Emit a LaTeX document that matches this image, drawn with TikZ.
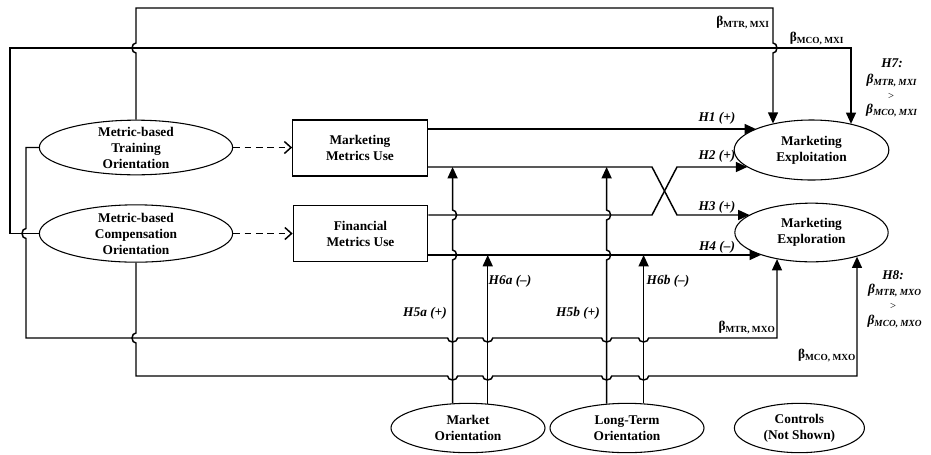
\documentclass[tikz,border=0pt]{standalone}
\usepackage{fontspec}
\setmainfont{Liberation Serif}
\usetikzlibrary{arrows.meta,positioning,calc,shapes.geometric}
\newcommand{\bcoef}[2]{β\textsubscript{#1, #2}}

\begin{document}
\begin{tikzpicture}[x=0.75pt, y=-0.75pt, >={Triangle[length=8.5pt,width=7.5pt]}, font=\bfseries,
  construct/.style={ellipse, draw, line width=0.8pt, align=center, inner sep=-4pt},
  metric/.style={rectangle, draw, line width=0.8pt, align=center, minimum width=101pt, minimum height=42pt},
  link/.style={line width=1.1pt},
  hyp/.style={font=\bfseries\itshape},
  cmp/.style={font=\bfseries\itshape, inner sep=0pt},
  hopur/.style={start angle=-90, end angle=90, x radius=3pt, y radius=3.75pt},
  hopul/.style={start angle=-90, end angle=-270, x radius=3pt, y radius=3.75pt},
  hopdl/.style={start angle=90, end angle=270, x radius=3pt, y radius=3.75pt},
  hopdr/.style={start angle=90, end angle=-90, x radius=3pt, y radius=3.75pt},
  hoprd/.style={start angle=180, end angle=360, x radius=3.75pt, y radius=3pt}]
  \useasboundingbox (0,0) rectangle (931,454);

  \node[construct, minimum width=145pt, minimum height=41pt] (mtr) at (136,147.5) {Metric-based\\Training\\Orientation};
  \node[construct, minimum width=145pt, minimum height=43pt] (mco) at (136,233.5) {Metric-based\\Compensation\\Orientation};
  \node[metric] (mmu) at (360,148) {Marketing\\Metrics Use};
  \node[metric] (fmu) at (360.5,233.5) {Financial\\Metrics Use};
  \node[construct, minimum width=116pt, minimum height=45pt] (mxi) at (811.5,150) {Marketing\\Exploitation};
  \node[construct, minimum width=115pt, minimum height=44pt] (mxo) at (811.5,232.5) {Marketing\\Exploration};
  \node[construct, minimum width=115.5pt, minimum height=37pt] (mo) at (468,428) {Market\\Orientation};
  \node[construct, minimum width=115.5pt, minimum height=37pt] (lto) at (627,428) {Long-Term\\Orientation};
  \node[construct, minimum width=97.5pt, minimum height=37pt, right=22pt of lto] (ctl) {Controls\\(Not Shown)};

  \coordinate (ta) at (773,8);
  \coordinate (lb) at (10,48);
  \coordinate (tb) at (851,48);
  \coordinate (lc) at (26,338);
  \coordinate (rc) at (777,338);
  \coordinate (rd) at (857,376);
  \coordinate (r1) at (0,129);
  \coordinate (r2) at (0,167);
  \coordinate (r3) at (0,215);
  \coordinate (r4) at (0,255);
  \coordinate (xa) at (652,0);
  \coordinate (xb) at (677,0);

  \draw[link, dash pattern=on 5pt off 3.5pt, -{Straight Barb[length=5pt,width=9pt]}] (mtr.east) -- (mtr.east -| mmu.west);
  \draw[link, dash pattern=on 5pt off 3.5pt, -{Straight Barb[length=5pt,width=9pt]}] (mco.east) -- (mco.east -| fmu.west);

  \draw[link,->] (mtr.north) -- ($(mtr.north |- lb)+(0,5)$) arc[hopul] -- (mtr.north |- ta) -- (ta)
    -- ($(ta |- lb)+(0,-5)$) arc[hopdr] -- (ta |- mxi.146);
  \draw[link,->] (mco.west) -| (lb) -- (tb) -- (tb |- mxi.33);
  \draw[link,->] (mtr.west) -- (lc |- mtr.west) -- ($(lc |- mco.west)+(0,-5)$) arc[hopdl] -- (lc)
    -- ($(lc -| mo.122)+(-5,0)$) arc[hoprd] -- ($(lc -| mo.51)+(-5,0)$) arc[hoprd]
    -- ($(lc -| lto.130)+(-5,0)$) arc[hoprd] -- ($(lc -| lto.56)+(-5,0)$) arc[hoprd]
    -- (rc) -- (rc |- mxo.217);
  \draw[link,->] (mco.south) -- ($(mco.south |- lc)+(0,-5)$) arc[hopdl] -- (mco.south |- rd)
    -- ($(rd -| mo.122)+(-5,0)$) arc[hoprd] -- ($(rd -| mo.51)+(-5,0)$) arc[hoprd]
    -- ($(rd -| lto.130)+(-5,0)$) arc[hoprd] -- ($(rd -| lto.56)+(-5,0)$) arc[hoprd]
    -- (rd) -- (rd |- mxo.332);

  \draw[link,->] (mmu.east |- r1) -- (mxi.159 |- r1);
  \draw[link,->] (mmu.east |- r2) -- (xa |- r2) -- (xb |- r3) -- (mxo.164 |- r3);
  \draw[link,->] (fmu.east |- r3) -- (xa |- r3) -- (xb |- r2) -- (mxi.195 |- r2);
  \draw[link,->] (fmu.east |- r4) -- (mxo.204 |- r4);

  \draw[link,->] (mo.122) -- ($(mo.122 |- r4)+(0,5)$) arc[hopur] -- ($(mo.122 |- r3)+(0,5)$) arc[hopur] -- (mo.122 |- r2);
  \draw[link,->] (mo.51) -- (mo.51 |- r4);
  \draw[link,->] (lto.130) -- ($(lto.130 |- r4)+(0,5)$) arc[hopur] -- ($(lto.130 |- r3)+(0,5)$) arc[hopur] -- (lto.130 |- r2);
  \draw[link,->] (lto.56) -- (lto.56 |- r4);

  \node[hyp] (h1) at (717,118) {H1 (+)};
  \node[hyp] (h2) at (717,156) {H2 (+)};
  \node[hyp] (h3) at (717,207) {H3 (+)};
  \node[hyp] (h4) at (717,247) {H4 (–)};
  \node[hyp] (h5a) at (425,313) {H5a (+)};
  \node[hyp] (h6a) at (510,281) {H6a (–)};
  \node[hyp] (h5b) at (578,313) {H5b (+)};
  \node[hyp] (h6b) at (668,281) {H6b (–)};

  \node (bmtrmxi) at (743,23) {\bcoef{MTR}{MXI}};
  \node (bmcomxi) at (817,39) {\bcoef{MCO}{MXI}};
  \node (bmtrmxo) at (747,328) {\bcoef{MTR}{MXO}};
  \node (bmcomxo) at (827,356) {\bcoef{MCO}{MXO}};

  \node[cmp] (h7) at (892,63) {H7:};
  \node[cmp] (h7a) at (892,81) {\bcoef{MTR}{MXI}};
  \node[cmp, font=\footnotesize] (h7b) at (891,96) {>};
  \node[cmp] (h7c) at (892,111) {\bcoef{MCO}{MXI}};
  \node[cmp] (h8) at (893,275) {H8:};
  \node[cmp] (h8a) at (895,291) {\bcoef{MTR}{MXO}};
  \node[cmp, font=\footnotesize] (h8b) at (893,306) {>};
  \node[cmp] (h8c) at (895,322) {\bcoef{MCO}{MXO}};
\end{tikzpicture}
\end{document}
